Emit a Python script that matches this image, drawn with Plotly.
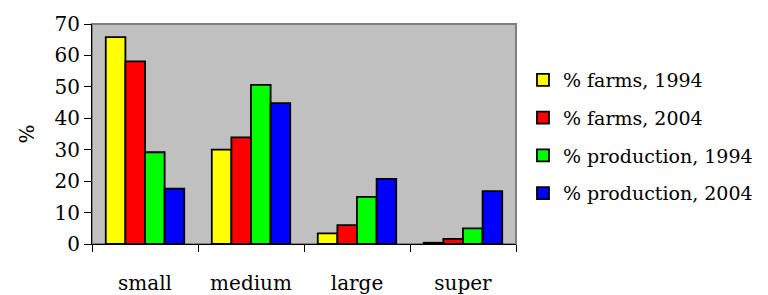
import plotly.graph_objects as go

categories = ["small", "medium", "large", "super"]
farms_1994 = [65.8, 30.0, 3.4, 0.4]
farms_2004 = [58.1, 33.9, 6.0, 1.6]
production_1994 = [29.2, 50.6, 15.0, 5.0]
production_2004 = [17.6, 44.8, 20.7, 16.8]

series = [
    ("% farms, 1994", farms_1994, "#ffff00"),
    ("% farms, 2004", farms_2004, "#ff0000"),
    ("% production, 1994", production_1994, "#00ff00"),
    ("% production, 2004", production_2004, "#0000ff"),
]

font_family = "DejaVu Serif"

fig = go.Figure()
for i, (name, vals, color) in enumerate(series):
    fig.add_trace(go.Bar(
        x=categories, y=vals, name=name,
        marker=dict(color=color, line=dict(color="black", width=1.8)),
        legendgroup=f"g{i}",
    ))

fig.update_layout(
    width=760, height=287,
    margin=dict(l=84, r=252, t=16, b=51, autoexpand=False),
    paper_bgcolor="white",
    plot_bgcolor="#c0c0c0",
    barmode="group",
    bargap=0.26,
    bargroupgap=0,
    font=dict(family=font_family, size=20, color="black"),
    showlegend=True,
    legend=dict(
        xref="container", yref="container",
        x=0.6776, xanchor="left",
        y=0.815, yanchor="top",
        maxheight=280,
        font=dict(family=font_family, size=19, color="black"),
        tracegroupgap=10,
        bgcolor="rgba(0,0,0,0)",
        itemclick=False,
    ),
    shapes=[dict(type="rect", xref="paper", yref="paper", x0=0, x1=1, y0=0, y1=1,
                 line=dict(color="#808080", width=2), layer="below")],
)

fig.update_xaxes(
    showline=True, linecolor="black", linewidth=1,
    ticks="outside", tickson="boundaries", ticklen=7, tickcolor="black",
    ticklabelstandoff=21, automargin=False,
    showgrid=False, zeroline=False,
)
fig.update_yaxes(
    range=[0, 70], dtick=10,
    showline=True, linecolor="black", linewidth=1,
    ticks="outside", ticklen=7, tickcolor="black",
    showgrid=False, zeroline=False, automargin=False,
    title=dict(text="%", standoff=14, font=dict(family=font_family, size=20)),
)

fig.write_html("out.html")
